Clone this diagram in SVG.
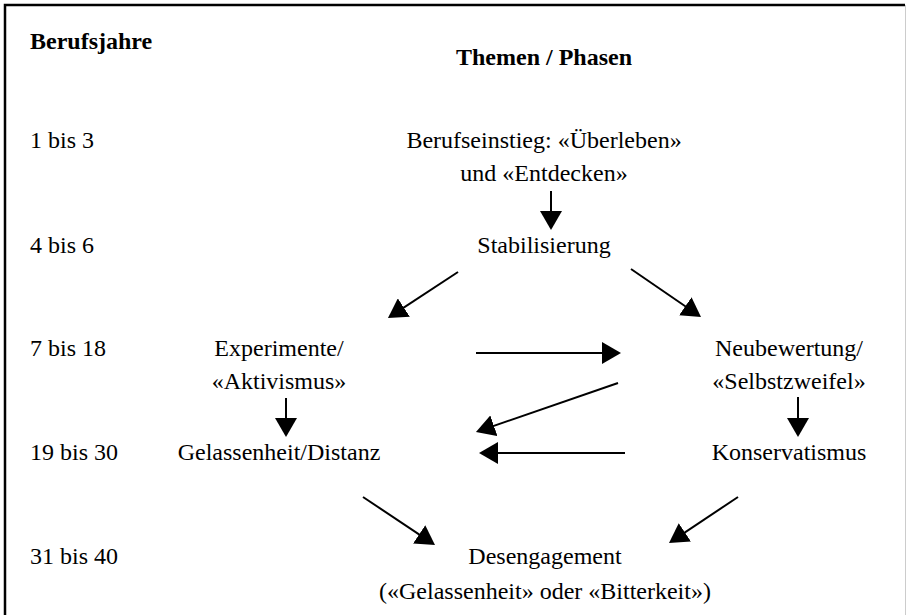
<svg xmlns="http://www.w3.org/2000/svg" width="906" height="615" viewBox="0 0 906 615">
<style>
text{font-family:"Liberation Serif","Times New Roman",serif;font-size:24px;fill:#000}
.b{font-weight:bold}
.c{text-anchor:middle}
.ln{stroke:#000;stroke-width:2;fill:none}
</style>
<defs>
<marker id="ah" markerUnits="userSpaceOnUse" markerWidth="19" markerHeight="22" refX="7" refY="11" orient="auto" viewBox="0 0 19 22">
<path d="M0,0 L19,11 L0,22 z" fill="#000"/>
</marker>
</defs>
<rect width="906" height="615" fill="#fff"/>
<g id="frame">
<path d="M5,620 L5,5 L905,5" stroke="#000" stroke-width="2.5" fill="none"/>
<path d="M905.5,5 L905.5,615" stroke="#ccc" stroke-width="1" fill="none"/>
</g>
<g id="headers">
<text class="b" x="30" y="49">Berufsjahre</text>
<text class="b c" x="544" y="65">Themen / Phasen</text>
</g>
<g id="years">
<text x="30" y="148">1 bis 3</text>
<text x="30" y="253">4 bis 6</text>
<text x="30" y="356">7 bis 18</text>
<text x="30" y="460">19 bis 30</text>
<text x="30" y="564">31 bis 40</text>
</g>
<g id="berufseinstieg">
<text class="c" x="544" y="148">Berufseinstieg: «Überleben»</text>
<text class="c" x="544" y="181">und «Entdecken»</text>
</g>
<g id="stabilisierung">
<text class="c" x="544" y="253">Stabilisierung</text>
</g>
<g id="experimente">
<text class="c" x="279" y="356">Experimente/</text>
<text class="c" x="279" y="389">«Aktivismus»</text>
</g>
<g id="neubewertung">
<text class="c" x="789" y="356">Neubewertung/</text>
<text class="c" x="789" y="389">«Selbstzweifel»</text>
</g>
<g id="gelassenheit">
<text class="c" x="279" y="460">Gelassenheit/Distanz</text>
</g>
<g id="konservatismus">
<text class="c" x="789" y="460">Konservatismus</text>
</g>
<g id="desengagement">
<text class="c" x="545" y="564">Desengagement</text>
<text class="c" x="545" y="599">(«Gelassenheit» oder «Bitterkeit»)</text>
</g>
<g id="connectors" class="ln" marker-end="url(#ah)">
<line x1="551" y1="191" x2="551" y2="218"/>
<line x1="458" y1="272" x2="398" y2="311.4"/>
<line x1="631" y1="269" x2="691.1" y2="310.2"/>
<line x1="476" y1="353" x2="609" y2="353"/>
<line x1="618" y1="383" x2="487.3" y2="428.1"/>
<line x1="286" y1="398" x2="286" y2="425"/>
<line x1="798" y1="397" x2="798" y2="425"/>
<line x1="625" y1="453" x2="491" y2="453"/>
<line x1="363" y1="497" x2="425" y2="538.3"/>
<line x1="738" y1="497" x2="679" y2="536.3"/>
</g>
</svg>
